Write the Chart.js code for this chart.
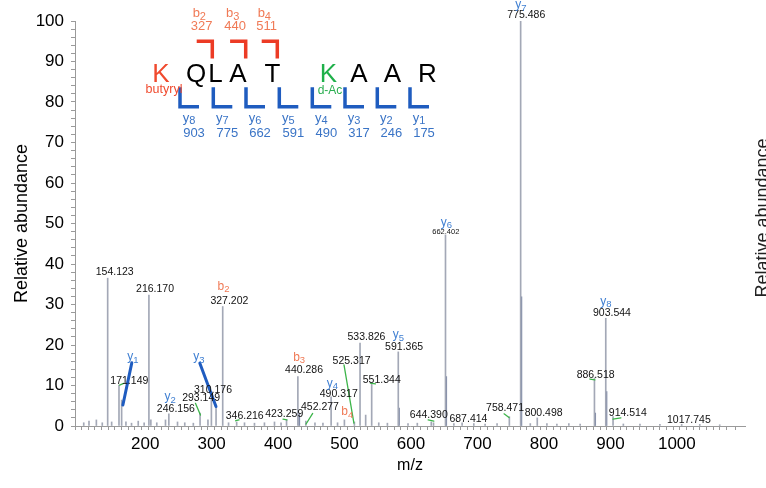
<!DOCTYPE html>
<html><head><meta charset="utf-8">
<script src="https://cdn.jsdelivr.net/npm/chart.js@4.4.0/dist/chart.umd.min.js"></script>
<style>html,body{margin:0;padding:0;background:#fff;}#wrap{width:766px;height:488px;position:relative;}</style>
</head><body><div id="wrap"><canvas id="c" width="766" height="488"></canvas></div>
<script>
// ---------- DATA ----------
const peakMz  = [118.1,126.0,137.1,146.0,154.123,160.1,171.149,175.119,181.6,190.0,200.1,209.0,216.170,219.1,228.0,241.1,246.156,259.2,270.1,283.0,293.149,305.0,310.176,317.19,327.202,336.0,348.2,360.0,375.0,390.0,405.1,415.0,423.259,440.286,452.277,466.0,478.0,490.317,500.0,510.3,525.317,533.826,542.3,551.344,562.0,575.0,591.365,606.0,620.0,641.0,644.390,662.402,675.0,687.414,705.0,722.0,740.0,758.471,775.486,790.0,800.498,815.0,830.0,848.0,865.0,886.518,903.544,914.514,930.0,955.0,985.0,1017.745,1045.0,1075.0];
const peakInt = [0.8,1.2,1.5,0.8,36.5,1.0,10.1,6.4,1.0,0.7,1.2,0.8,32.3,1.5,0.8,1.5,3.0,1.0,0.8,0.7,3.2,1.5,8.0,4.8,29.5,0.8,1.0,0.8,0.7,0.8,1.0,0.8,1.5,12.2,1.2,0.8,0.7,7.2,0.8,1.5,1.0,20.5,2.7,10.6,0.8,0.7,18.3,0.6,0.7,1.0,0.8,47.2,0.6,0.8,0.6,0.5,0.6,2.3,100,0.6,2.0,0.6,0.5,0.6,0.5,11.9,26.6,2.3,0.5,0.5,0.4,0.4,0.4,0.3];
const isoMz  = [442.29,592.37,663.40,776.49,887.52,904.55];
const isoInt = [3.0,4.4,12.2,31.9,3.2,8.5];

const xTickLabels = [200,300,400,500,600,700,800,900,1000,1100];
const yTickLabels = [0,10,20,30,40,50,60,70,80,90,100];

// m/z labels: text and anchor in data units (m/z, abundance)
const labelText = ['154.123','216.170','327.202','171.149','246.156','310.176','293.149','346.216','423.259','440.286','452.277','490.317','525.317','533.826','551.344','591.365','644.390','687.414','758.471','775.486','800.498','886.518','903.544','914.514','1017.745'];
const labelMz   = [164.7,225.4,337.2,186.7,256.7,312.6,294.7,360.3,419.8,449.6,473.5,501.8,521.1,543.5,566.5,600.1,637.3,696.9,752.0,784.0,810.1,888.3,912.9,936.7,1028.6];
const labelAb   = [38.1,33.8,30.9,11.2,4.2,8.9,7.0,2.5,3.0,13.8,4.6,7.9,15.9,21.9,11.4,19.6,2.7,1.7,4.4,101.5,3.1,12.6,27.8,3.2,1.5];
const smallLabelText = ['662.402'];
const smallLabelMz   = [662.9];
const smallLabelAb   = [47.8];

// fragment ion tags
const ionLetter = ['y','y','b','y','b','y','b','y','y','y','y'];
const ionNum    = ['1','2','2','3','3','4','4','5','6','7','8'];
const ionMz     = [191.9,248.1,328.5,291.3,442.2,492.4,514.7,591.6,663.6,775.9,903.9];
const ionAb     = [17.1,7.2,34.4,17.1,17.0,10.5,3.5,22.5,50.3,104.0,30.7];

// leader lines [mz1, ab1, mz2, ab2]
const greenLeads = [[172.1,10.1,178.1,10.5],[286.2,5.6,293.7,2.7],[346.8,1.3,351.8,1.5],[417.9,1.7,423.9,1.5],[462.6,3.1,452.6,0.5],[509.7,15.1,524.6,0.7],[549.4,10.6,556.9,10.4],[636.3,1.5,644.8,1.2],[750.5,3.0,758.0,2.1],[879.7,11.6,887.1,11.4],[914.4,1.7,926.3,2.0]];
const blueLeads  = [[190.4,15.6,177.0,5.2],[292.8,15.5,317.1,4.8]];

// peptide
const sequence = ['K','Q','L','A','T','K','A','A','R'];
const bIonNames = ['2','3','4'];
const bIonMass  = ['327','440','511'];
const yIonNames = ['8','7','6','5','4','3','2','1'];
const yIonMass  = ['903','775','662','591','490','317','246','175'];

// ---------- DRAW ----------
const FF = '"Liberation Sans", Arial, sans-serif';
Chart.defaults.font.family = FF;

function ionTag(ctx, letter, num, cx, cy, color, size, sub) {
  ctx.font = size + 'px ' + FF; const w1 = ctx.measureText(letter).width;
  ctx.font = sub + 'px ' + FF;  const w2 = ctx.measureText(num).width;
  const x0 = cx - (w1 + w2) / 2;
  const base = cy + size * 0.3;
  ctx.fillStyle = color; ctx.textAlign = 'left'; ctx.textBaseline = 'alphabetic';
  ctx.font = size + 'px ' + FF; ctx.fillText(letter, x0, base);
  ctx.font = sub + 'px ' + FF;  ctx.fillText(num, x0 + w1, base + size * 0.18);
}

const annot = {
  id: 'annot',
  afterDatasetsDraw(chart) {
    const ctx = chart.ctx, xs = chart.scales.x, ys = chart.scales.y;
    const px = m => xs.getPixelForValue(m), py = v => ys.getPixelForValue(v);
    ctx.save();
    // leaders
    ctx.lineCap = 'round';
    ctx.strokeStyle = '#3db54a'; ctx.lineWidth = 1.3;
    greenLeads.forEach(l => { ctx.beginPath(); ctx.moveTo(px(l[0]), py(l[1])); ctx.lineTo(px(l[2]), py(l[3])); ctx.stroke(); });
    ctx.strokeStyle = '#1f5cc0'; ctx.lineWidth = 3;
    blueLeads.forEach(l => { ctx.beginPath(); ctx.moveTo(px(l[0]), py(l[1])); ctx.lineTo(px(l[2]), py(l[3])); ctx.stroke(); });
    // m/z labels
    ctx.fillStyle = '#111'; ctx.textAlign = 'center'; ctx.textBaseline = 'middle';
    ctx.font = '10.5px ' + FF;
    labelText.forEach((t, i) => ctx.fillText(t, px(labelMz[i]), py(labelAb[i])));
    ctx.font = '7.5px ' + FF;
    smallLabelText.forEach((t, i) => ctx.fillText(t, px(smallLabelMz[i]), py(smallLabelAb[i])));
    // ion tags
    ionLetter.forEach((l, i) => {
      const col = l === 'y' ? '#3f7fd2' : '#f07a56';
      ionTag(ctx, l, ionNum[i], px(ionMz[i]), py(ionAb[i]), col, 12, 9.5);
    });

    // peptide diagram
    // b brackets
    const bVx = [212.3, 245.7, 277.3];
    ctx.strokeStyle = '#ec3b25'; ctx.lineWidth = 3.5; ctx.lineCap = 'butt'; ctx.lineJoin = 'miter';
    bVx.forEach((vx, i) => {
      ctx.beginPath(); ctx.moveTo(vx - 15.6, 41.3); ctx.lineTo(vx, 41.3); ctx.lineTo(vx, 58.5); ctx.stroke();
      ionTag(ctx, 'b', bIonNames[i], vx - 13, 13.3, '#f07a56', 13, 11);
      ctx.font = '13px ' + FF; ctx.fillStyle = '#f07a56'; ctx.textAlign = 'center'; ctx.textBaseline = 'middle';
      ctx.fillText(bIonMass[i], vx - 10.6, 26.5);
    });
    // y brackets
    const yVx = [180, 213.3, 246, 279.3, 312.3, 345, 377.3, 410];
    ctx.strokeStyle = '#1f5cbf';
    yVx.forEach((vx, i) => {
      ctx.beginPath(); ctx.moveTo(vx, 87.3); ctx.lineTo(vx, 106.7); ctx.lineTo(vx + 19, 106.7); ctx.stroke();
      ionTag(ctx, 'y', yIonNames[i], vx + 9, 117.7, '#3a74c6', 13, 11);
      ctx.font = '13px ' + FF; ctx.fillStyle = '#3a74c6'; ctx.textAlign = 'center'; ctx.textBaseline = 'middle';
      ctx.fillText(yIonMass[i], vx + 14, 133.8);
    });
    const seqX = [161, 196, 215.5, 238, 272.5, 328.5, 359, 392.5, 427.5];
    const seqCol = ['#f04a2e', '#000', '#000', '#000', '#000', '#1fb04a', '#000', '#000', '#000'];
    ctx.font = '26px ' + FF; ctx.textAlign = 'center'; ctx.textBaseline = 'alphabetic';
    sequence.forEach((s, i) => { ctx.fillStyle = seqCol[i]; ctx.fillText(s, seqX[i], 82); });
    ctx.font = '12.5px ' + FF; ctx.fillStyle = '#f04a2e'; ctx.fillText('butyryl', 164, 92.5);
    ctx.font = '12px ' + FF; ctx.fillStyle = '#2aae50'; ctx.fillText('d-Ac', 330, 93.5);

    // neighbouring panel's axis title, cut at the edge
    ctx.translate(763.5, 218); ctx.rotate(-Math.PI / 2);
    ctx.font = '18px ' + FF; ctx.fillStyle = '#222'; ctx.textAlign = 'center'; ctx.textBaseline = 'middle';
    ctx.fillText('Relative abundance', 0, 0);
    ctx.restore();
  }
};

new Chart(document.getElementById('c'), {
  type: 'bar',
  data: {
    datasets: [
      { data: peakMz.map((m, i) => ({ x: m, y: peakInt[i] })), backgroundColor: '#a3a8b6', barThickness: 1, grouped: false, borderWidth: 0 },
      { data: isoMz.map((m, i) => ({ x: m, y: isoInt[i] })), backgroundColor: '#7f8aa6', barThickness: 1.2, grouped: false, borderWidth: 0 }
    ]
  },
  options: {
    responsive: false, animation: false, devicePixelRatio: 1,
    layout: { padding: { top: 21, right: 21, left: 0, bottom: 0 } },
    plugins: { legend: { display: false }, tooltip: { enabled: false } },
    scales: {
      x: {
        type: 'linear', min: 110, max: 1108,
        ticks: { stepSize: 10, autoSkip: false, maxRotation: 0, padding: 4, labelOffset: 7, color: '#000', font: { size: 17 },
          callback: v => xTickLabels.includes(v) ? String(v) : '' },
        grid: { drawOnChartArea: false, drawTicks: true, tickLength: 4, tickColor: '#9a9a9a' },
        border: { color: '#9a9a9a', width: 1 },
        title: { display: true, text: 'm/z', color: '#000', font: { size: 16 }, padding: { top: 0, bottom: 13 } },
        afterFit: s => { s.height = 62; }
      },
      y: {
        min: 0, max: 100,
        ticks: { stepSize: 2, autoSkip: false, padding: 7, color: '#000', font: { size: 17 },
          callback: v => yTickLabels.includes(v) ? String(v) : '' },
        grid: { drawOnChartArea: false, drawTicks: true, tickLength: 4, tickColor: '#9a9a9a' },
        border: { color: '#9a9a9a', width: 1 },
        title: { display: true, text: 'Relative abundance', color: '#000', font: { size: 18 }, padding: { top: 11 } },
        afterFit: s => { s.width = 75; }
      }
    }
  },
  plugins: [annot]
});
</script></body></html>
